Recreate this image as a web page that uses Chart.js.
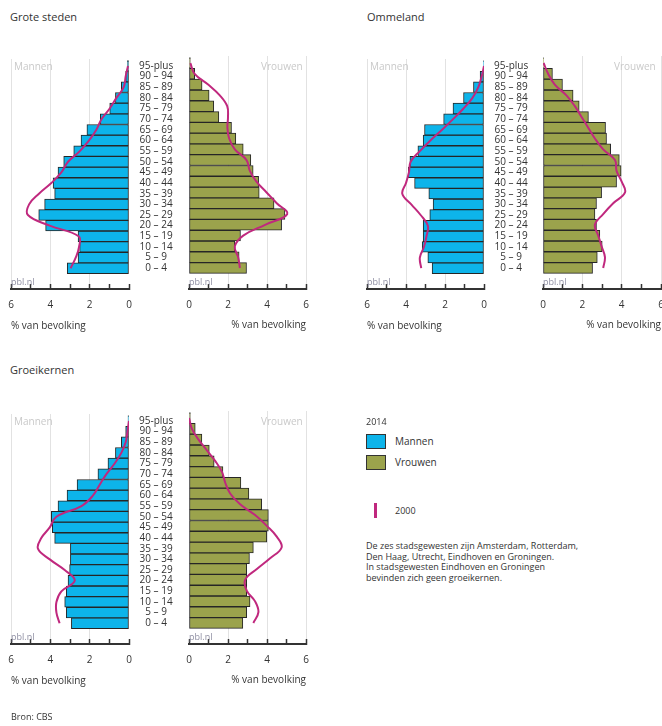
<!DOCTYPE html>
<html lang="nl">
<head>
<meta charset="utf-8">
<title>Bevolkingspiramides stadsgewesten</title>
<script src="https://cdn.jsdelivr.net/npm/chart.js@4.4.1/dist/chart.umd.min.js"></script>
<style>
  body { margin: 0; background: #fff; font-family: "Open Sans", "Noto Sans", sans-serif; color: #333; }
  #page { position: relative; width: 662px; height: 726px; overflow: hidden; }
  .abs { position: absolute; white-space: nowrap; }
  .title { font-size: 11px; color: #333; }
  .sex { font-size: 10px; color: #c9c9c9; }
  .pbl { font-size: 9px; color: #8f8fa3; }
  .axt { font-size: 10px; color: #333; }
  .legend { font-size: 10px; color: #333; }
  .note { font-size: 9px; line-height: 10.7px; color: #333; }
  canvas { position: absolute; }
</style>
</head>
<body>
<div id="page">
  <div class="abs title" style="left:10px; top:9px;">Grote steden</div>
  <div class="abs title" style="left:367px; top:9px;">Ommeland</div>
  <div class="abs title" style="left:10px; top:362px;">Groeikernen</div>

  <canvas id="gs-m" width="189" height="292" style="left:0; top:43px;"></canvas>
  <canvas id="gs-v" width="140" height="292" style="left:180px; top:43px;"></canvas>
  <canvas id="om-m" width="187" height="292" style="left:356px; top:43px;"></canvas>
  <canvas id="om-v" width="140" height="292" style="left:534px; top:43px;"></canvas>
  <canvas id="gk-m" width="189" height="292" style="left:0; top:398px;"></canvas>
  <canvas id="gk-v" width="140" height="292" style="left:180px; top:398px;"></canvas>

  <div class="abs sex" style="left:14px; top:59px;">Mannen</div>
  <div class="abs sex" style="left:261px; top:59px;">Vrouwen</div>
  <div class="abs sex" style="left:370px; top:59px;">Mannen</div>
  <div class="abs sex" style="left:614px; top:59px;">Vrouwen</div>
  <div class="abs sex" style="left:14px; top:414px;">Mannen</div>
  <div class="abs sex" style="left:261px; top:414px;">Vrouwen</div>

  <div class="abs pbl" style="left:11px; top:275px;">pbl.nl</div>
  <div class="abs pbl" style="left:189px; top:275px;">pbl.nl</div>
  <div class="abs pbl" style="left:367px; top:275px;">pbl.nl</div>
  <div class="abs pbl" style="left:543px; top:275px;">pbl.nl</div>
  <div class="abs pbl" style="left:11px; top:630px;">pbl.nl</div>
  <div class="abs pbl" style="left:189px; top:630px;">pbl.nl</div>

  <!-- axis titles of the men halves (a reversed axis puts its own title off-canvas) -->
  <div class="abs axt" style="left:11px; top:318px;">% van bevolking</div>
  <div class="abs axt" style="left:367px; top:318px;">% van bevolking</div>
  <div class="abs axt" style="left:11px; top:673px;">% van bevolking</div>

  <!-- legend -->
  <div class="abs legend" style="left:366px; top:415px; font-size:9px;">2014</div>
  <div class="abs" style="left:366px; top:434px; width:18px; height:13px; background:#0db4ea; border:1px solid #333;"></div>
  <div class="abs legend" style="left:395px; top:434px;">Mannen</div>
  <div class="abs" style="left:366px; top:455px; width:18px; height:13px; background:#9ba34c; border:1px solid #333;"></div>
  <div class="abs legend" style="left:395px; top:455px;">Vrouwen</div>
  <div class="abs" style="left:374px; top:503px; width:3px; height:15px; background:#c0287e;"></div>
  <div class="abs legend" style="left:395px; top:504px; font-size:9px;">2000</div>
  <div class="abs note" style="left:366px; top:541px;">De zes stadsgewesten zijn Amsterdam, Rotterdam,<br>Den Haag, Utrecht, Eindhoven en Groningen.<br>In stadsgewesten Eindhoven en Groningen<br>bevinden zich geen groeikernen.</div>

  <div class="abs note" style="left:11px; top:712px; font-size:9px;">Bron: CBS</div>
</div>

<script>
// age groups, youngest first (index 0 = bottom of the pyramid)
const ageGroups = ["0 – 4", "5 – 9", "10 – 14", "15 – 19", "20 – 24", "25 – 29", "30 – 34", "35 – 39",
  "40 – 44", "45 – 49", "50 – 54", "55 – 59", "60 – 64", "65 – 69", "70 – 74", "75 – 79",
  "80 – 84", "85 – 89", "90 – 94", "95-plus"];

// % van bevolking, grote steden
const gsMen2014 = [3.14, 2.59, 2.51, 2.59, 4.24, 4.59, 4.29, 3.78, 3.86, 3.61, 3.32, 2.81, 2.44, 2.14, 1.46, 0.98, 0.69, 0.39, 0.17, 0.08];
const gsMen2000 = [2.97, 2.71, 2.54, 2.56, 4.03, 5.14, 5.08, 4.58, 3.95, 3.44, 3.1, 2.5, 2.03, 1.66, 1.4, 0.98, 0.64, 0.27, 0.17, 0.05];
const gsWomen2014 = [2.95, 2.57, 2.35, 2.64, 4.75, 4.92, 4.36, 3.6, 3.57, 3.29, 3.17, 2.78, 2.4, 2.18, 1.53, 1.27, 1.03, 0.67, 0.29, 0.07];
const gsWomen2000 = [2.61, 2.52, 2.35, 2.78, 3.9, 5.04, 4.5, 3.98, 3.46, 3.12, 2.95, 2.35, 2.06, 1.97, 2.0, 1.96, 1.58, 0.98, 0.29, 0.07];

// ommeland
const omMen2014 = [2.66, 2.88, 3.17, 3.12, 3.12, 2.78, 2.61, 2.83, 3.56, 3.88, 3.8, 3.39, 3.12, 3.05, 2.07, 1.59, 1.05, 0.54, 0.2, 0.03];
const omMen2000 = [3.22, 3.29, 3.08, 2.95, 2.88, 3.25, 3.73, 4.19, 4.0, 3.85, 3.76, 3.29, 2.75, 2.15, 1.59, 1.05, 0.59, 0.29, 0.12, 0];
const omWomen2014 = [2.52, 2.76, 3.01, 2.89, 2.72, 2.64, 2.72, 2.98, 3.74, 3.97, 3.88, 3.44, 3.23, 3.18, 2.31, 1.84, 1.53, 0.99, 0.48, 0.03];
const omWomen2000 = [3.06, 3.15, 2.98, 2.81, 2.64, 3.06, 3.57, 4.17, 4.0, 3.74, 3.66, 3.06, 2.64, 2.3, 1.96, 1.62, 1.19, 0.6, 0.26, 0.03];

// groeikernen
const gkMen2014 = [2.93, 3.19, 3.27, 3.19, 3.1, 3.02, 2.98, 2.98, 3.78, 3.9, 3.95, 3.61, 3.15, 2.64, 1.58, 1.07, 0.69, 0.39, 0.17, 0.05];
const gkMen2000 = [3.53, 3.69, 3.69, 3.44, 2.76, 3.27, 4.03, 4.63, 4.46, 4.03, 3.69, 2.42, 1.83, 1.49, 1.15, 0.73, 0.39, 0.17, 0.08, 0];
const gkWomen2014 = [2.76, 2.96, 3.13, 2.96, 2.96, 2.96, 3.1, 3.3, 3.99, 4.07, 4.07, 3.73, 3.07, 2.66, 1.74, 1.29, 1.04, 0.66, 0.32, 0.07];
const gkWomen2000 = [3.3, 3.56, 3.39, 2.96, 2.88, 3.48, 4.16, 4.75, 4.5, 3.99, 3.39, 2.62, 2.11, 1.86, 1.69, 1.35, 0.92, 0.49, 0.15, 0];

// x axis ticks, labels only on the even ones
const xTicks = [0, 1, 2, 3, 4, 5, 6];

const menColor = "#0db4ea";
const womenColor = "#9ba34c";
const lineColor = "#c0287e";
const axisColor = "#333";
const font = { family: "'Open Sans', 'Noto Sans', sans-serif", size: 10 };

// one half of a pyramid; the men half also carries the age labels on its right side
function drawPyramid(id, isMen, values2014, values2000, pad, labelWidth) {
  const toPoints = (arr) => arr.map((v, i) => ({ x: v, y: i }));
  return new Chart(document.getElementById(id), {
    data: {
      datasets: [
        {
          type: "line",
          data: toPoints(values2000),
          borderColor: lineColor,
          borderWidth: 2,
          pointRadius: 0,
          pointHoverRadius: 0,
          tension: 0.4,
          fill: false,
          order: 0,
        },
        {
          type: "bar",
          data: toPoints(values2014),
          backgroundColor: isMen ? menColor : womenColor,
          borderColor: "#262626",
          borderWidth: 1,
          borderSkipped: false,
          barPercentage: 1,
          categoryPercentage: 1,
          order: 1,
        },
      ],
    },
    options: {
      indexAxis: "y",
      responsive: false,
      animation: false,
      events: [],
      layout: { padding: pad, autoPadding: false },
      plugins: { legend: { display: false }, tooltip: { enabled: false } },
      scales: {
        x: {
          type: "linear",
          min: 0,
          max: 6,
          reverse: isMen,
          afterBuildTicks: (s) => { s.ticks = xTicks.map((v) => ({ value: v })); },
          ticks: {
            callback: (v) => (v % 2 === 0 ? v : ""),
            autoSkip: false,
            maxRotation: 0,
            padding: 15,
            font: font,
            color: "#333",
          },
          grid: {
            color: (ctx) => (ctx.tick && ctx.tick.value > 0 && ctx.tick.value % 2 === 0 ? "#e2e2e2" : "transparent"),
            tickColor: axisColor,
            tickWidth: 1.5,
            tickLength: -5,
          },
          border: { color: axisColor, width: 2 },
          title: {
            display: !isMen,
            text: "% van bevolking",
            align: "end",
            padding: { top: 0, bottom: 4 },
            font: font,
            color: "#333",
          },
          // fixed axis height; keep the label padding from pushing the plot area inwards
          afterFit: (s) => {
            s.height = 46;
            s.paddingLeft = 0;
            s.paddingRight = 0;
          },
        },
        y: {
          type: "linear",
          position: "right",
          display: isMen,
          offset: false,
          min: -1.95,
          max: 19.65,
          afterBuildTicks: (s) => { s.ticks = ageGroups.map((_, i) => ({ value: i })); },
          ticks: {
            callback: (v) => ageGroups[v],
            autoSkip: false,
            crossAlign: "center",
            padding: 10,
            font: font,
            color: "#333",
          },
          grid: { display: false, drawTicks: false, offset: false },
          border: { display: false },
          afterFit: (s) => { s.width = labelWidth; },
        },
      },
    },
  });
}

drawPyramid("gs-m", true, gsMen2014, gsMen2000, { left: 11, top: 13 }, 60);
drawPyramid("gs-v", false, gsWomen2014, gsWomen2000, { left: 9, right: 14, top: 13 }, 0);
drawPyramid("om-m", true, omMen2014, omMen2000, { left: 11, top: 13 }, 59);
drawPyramid("om-v", false, omWomen2014, omWomen2000, { left: 9, right: 13, top: 13 }, 0);
drawPyramid("gk-m", true, gkMen2014, gkMen2000, { left: 11, top: 13 }, 60);
drawPyramid("gk-v", false, gkWomen2014, gkWomen2000, { left: 9, right: 14, top: 13 }, 0);
</script>
</body>
</html>
